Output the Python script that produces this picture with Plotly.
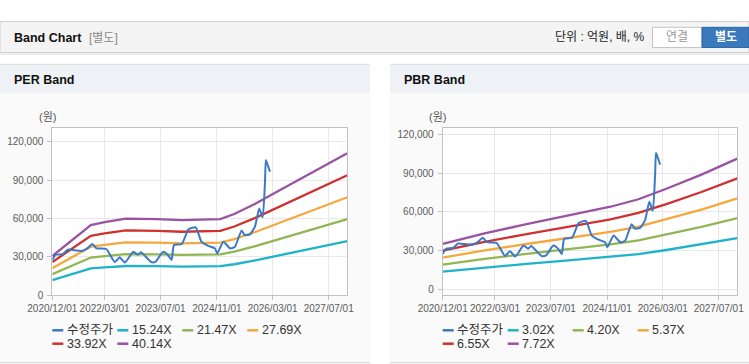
import plotly.graph_objects as go

W, H = 749, 364
FONT = "Liberation Sans, Noto Sans CJK KR, sans-serif"

# ---------------- data ----------------
price_name = "수정주가"
price_dates = ["2020-12-01", "2021-01-01", "2021-03-01", "2021-04-15", "2021-06-15", "2021-08-15",
               "2021-10-01", "2021-11-15", "2021-12-20", "2022-03-15", "2022-05-28", "2022-07-10",
               "2022-08-25", "2022-11-05", "2022-12-15", "2023-01-10", "2023-04-12", "2023-05-20",
               "2023-07-22", "2023-09-01", "2023-10-04", "2023-10-25", "2024-01-01", "2024-02-28",
               "2024-05-01", "2024-06-20", "2024-08-18", "2024-10-15", "2024-11-04", "2024-12-28",
               "2025-02-24", "2025-04-06", "2025-06-03", "2025-07-01", "2025-08-15", "2025-09-28",
               "2025-11-04", "2025-12-04", "2025-12-25", "2026-01-01", "2026-01-22", "2026-02-06"]
price_values = [27500, 31500, 32000, 35500, 35000, 34500,
                36500, 40000, 36500, 36000, 25800, 29500,
                25400, 33900, 31500, 33500, 25700, 26200,
                33900, 31500, 27400, 39100, 39900, 51400,
                53000, 41700, 38400, 36500, 32600, 41700,
                36500, 37500, 50400, 47000, 47500, 53500,
                67800, 60800, 90000, 105700, 100500, 96500]

per_dates = ["2020-12-01", "2021-11-01", "2022-03-01", "2022-09-01", "2023-06-01", "2024-01-01",
             "2024-12-01", "2025-04-01", "2025-10-01", "2026-05-01", "2027-12-10"]
per_names = ["15.24X", "21.47X", "27.69X", "33.92X", "40.14X"]
per_15_24 = [11580, 20800, 21640, 22710, 22560, 22250, 22560, 24080, 27130, 31170, 42110]
per_21_47 = [16320, 29310, 30490, 31990, 31780, 31350, 31780, 33920, 38220, 43910, 59320]
per_27_69 = [21040, 37800, 39320, 41260, 40980, 40430, 40980, 43750, 49290, 56630, 76510]
per_33_92 = [25780, 46300, 48170, 50540, 50200, 49520, 50200, 53590, 60380, 69370, 93720]
per_40_14 = [30510, 54790, 57000, 59810, 59410, 58600, 59410, 63420, 71450, 82090, 110910]

pbr_dates = ["2020-12-01", "2021-12-01", "2022-12-01", "2023-12-01", "2024-12-01",
             "2025-08-01", "2026-04-01", "2027-02-01", "2027-12-10"]
pbr_names = ["3.02X", "4.20X", "5.37X", "6.55X", "7.72X"]
pbr_3_02 = [13770, 16970, 19720, 22350, 25010, 27270, 30440, 34730, 39590]
pbr_4_20 = [19150, 23600, 27430, 31080, 34780, 37930, 42340, 48300, 55060]
pbr_5_37 = [24490, 30180, 35070, 39740, 44460, 48490, 54130, 61760, 70400]
pbr_6_55 = [29870, 36810, 42770, 48470, 54230, 59150, 66020, 75330, 85870]
pbr_7_72 = [35200, 43390, 50410, 57130, 63920, 69710, 77820, 88780, 101210]

tick_dates = ["2020-12-01", "2022-03-01", "2023-07-01", "2024-11-01", "2026-03-01", "2027-07-01"]
tick_labels = ["2020/12/01", "2022/03/01", "2023/07/01", "2024/11/01", "2026/03/01", "2027/07/01"]
y_ticks = [0, 30000, 60000, 90000, 120000]

price_color = "#3b78c6"
band_colors = ["#1fb3c8", "#91b653", "#f5a83e", "#cf3130", "#9a53a0"]

# ---------------- helpers ----------------
def px(x):
    return x / W

def py(y):
    return 1 - y / H

fig = go.Figure()

charts = [
    dict(title="PER Band", x0=52.3, x1=347.3, panel=(0, 370), suffix="",
         dates=per_dates, names=per_names,
         bands=[per_15_24, per_21_47, per_27_69, per_33_92, per_40_14],
         yrange=[0, 130500]),
    dict(title="PBR Band", x0=442.7, x1=737.3, panel=(390, 749), suffix="2",
         dates=pbr_dates, names=pbr_names,
         bands=[pbr_3_02, pbr_4_20, pbr_5_37, pbr_6_55, pbr_7_72],
         yrange=[-4400, 124650]),
]

PLOT_TOP, PLOT_BOT = 128.3, 295.0

shapes = []
annotations = []

# header bar
shapes.append(dict(type="rect", xref="paper", yref="paper", x0=0, x1=1, y0=py(53.5), y1=py(54.8),
                   fillcolor="#e4e4e4", line_width=0, layer="below"))
shapes.append(dict(type="rect", xref="paper", yref="paper", x0=0, x1=1, y0=py(52.5), y1=py(21.5),
                   fillcolor="#f4f4f4", line=dict(color="#cdcdcd", width=1), layer="below"))
annotations.append(dict(text="<b>Band Chart</b>", x=px(11.5), y=py(38), xref="paper", yref="paper",
                        xanchor="left", yanchor="middle", showarrow=False,
                        font=dict(family=FONT, size=12.5, color="#111111")))
annotations.append(dict(text="[별도]", x=px(87), y=py(38), xref="paper", yref="paper",
                        xanchor="left", yanchor="middle", showarrow=False,
                        font=dict(family=FONT, size=12, color="#8a8a8a")))
annotations.append(dict(text="단위 : 억원, 배, %", x=px(647), y=py(37.5), xref="paper", yref="paper",
                        xanchor="right", yanchor="middle", showarrow=False,
                        font=dict(family=FONT, size=12, color="#222222")))
shapes.append(dict(type="rect", xref="paper", yref="paper", x0=px(652.5), x1=px(702), y0=py(47.5), y1=py(27.3),
                   fillcolor="#ffffff", line=dict(color="#c4c4c4", width=1), layer="below"))
shapes.append(dict(type="rect", xref="paper", yref="paper", x0=px(702), x1=px(749), y0=py(47.5), y1=py(27.3),
                   fillcolor="#3a79bc", line=dict(color="#2f68a6", width=1), layer="below"))
annotations.append(dict(text="연결", x=px(677.3), y=py(37.5), xref="paper", yref="paper",
                        xanchor="center", yanchor="middle", showarrow=False,
                        font=dict(family=FONT, size=12, color="#999999")))
annotations.append(dict(text="<b>별도</b>", x=px(725.5), y=py(37.5), xref="paper", yref="paper",
                        xanchor="center", yanchor="middle", showarrow=False,
                        font=dict(family=FONT, size=12, color="#ffffff")))

for i, c in enumerate(charts):
    s = c["suffix"]
    xa = "xaxis" + s
    ya = "yaxis" + s
    pl, pr = c["panel"]
    # panel background
    shapes.append(dict(type="rect", xref="paper", yref="paper", x0=px(pl), x1=px(pr), y0=py(363), y1=py(64),
                       fillcolor="#fafafa", line_width=0, layer="below"))
    shapes.append(dict(type="rect", xref="paper", yref="paper", x0=px(pl), x1=px(pr), y0=py(92.7), y1=py(64.8),
                       fillcolor="#eef2f7", line_width=0, layer="below"))
    shapes.append(dict(type="line", xref="paper", yref="paper", x0=px(pl), x1=px(pr), y0=py(64.3), y1=py(64.3),
                       line=dict(color="#dadada", width=1), layer="below"))
    shapes.append(dict(type="line", xref="paper", yref="paper", x0=px(pl), x1=px(pr), y0=py(362.7), y1=py(362.7),
                       line=dict(color="#d6d6d6", width=1), layer="below"))
    # plot area background
    shapes.append(dict(type="rect", xref="paper", yref="paper", x0=px(c["x0"]), x1=px(c["x1"]),
                       y0=py(PLOT_BOT), y1=py(PLOT_TOP), fillcolor="#ffffff", line_width=0, layer="below"))
    annotations.append(dict(text="<b>" + c["title"] + "</b>", x=px(pl + 11.5), y=py(79.5), xref="paper", yref="paper",
                            xanchor="left", yanchor="middle", showarrow=False,
                            font=dict(family=FONT, size=12.5, color="#111111")))
    annotations.append(dict(text="(원)", x=px(c["x0"] - 5), y=py(117), xref="paper", yref="paper",
                            xanchor="center", yanchor="middle", showarrow=False,
                            font=dict(family=FONT, size=11, color="#555555")))

    # traces
    for name, vals, col in zip(c["names"], c["bands"], band_colors):
        fig.add_trace(go.Scatter(x=c["dates"], y=vals, mode="lines", name=name,
                                 line=dict(color=col, width=2.3), xaxis="x" + s, yaxis="y" + s,
                                 showlegend=False, hoverinfo="skip"))
    fig.add_trace(go.Scatter(x=price_dates, y=price_values, mode="lines", name=price_name,
                             line=dict(color=price_color, width=2, shape="spline", smoothing=0.5),
                             xaxis="x" + s, yaxis="y" + s, showlegend=False))

    axis_common = dict(showline=True, mirror=True, linecolor="#c2c2c2", linewidth=1,
                       showgrid=True, gridcolor="#e8e8e8", gridwidth=1, automargin=False,
                       ticks="outside", ticklen=4, tickcolor="#c2c2c2",
                       tickfont=dict(family=FONT, size=10, color="#5a5a5a"), zeroline=False)
    fig.update_layout(**{
        xa: dict(axis_common, type="date", domain=[px(c["x0"]), px(c["x1"])],
                 range=["2020-12-01", "2027-12-10"], tickmode="array", tickangle=0,
                 tickvals=tick_dates, ticktext=tick_labels, anchor="y" + s, ticklabelstandoff=0),
        ya: dict(axis_common, domain=[py(PLOT_BOT), py(PLOT_TOP)], range=c["yrange"],
                 tickmode="array", tickvals=y_ticks, tickformat=",d", anchor="x" + s,
                 ticklabelstandoff=2),
    })

    # manual legend
    names = [price_name] + c["names"]
    cols = [price_color] + band_colors
    for k, (nm, col) in enumerate(zip(names, cols)):
        row, colidx = divmod(k, 4)
        lx = c["x0"] + 65 * colidx
        ly = 330.3 + 13.4 * row
        shapes.append(dict(type="line", xref="paper", yref="paper", x0=px(lx), x1=px(lx + 11),
                           y0=py(ly), y1=py(ly), line=dict(color=col, width=2.5)))
        annotations.append(dict(text=nm, x=px(lx + 12.5), y=py(ly), xref="paper", yref="paper",
                                xanchor="left", yanchor="middle", showarrow=False,
                                font=dict(family=FONT, size=12.5, color="#333333")))

fig.update_layout(width=W, height=H, margin=dict(l=0, r=0, t=0, b=0, autoexpand=False),
                  paper_bgcolor="#ffffff", plot_bgcolor="rgba(0,0,0,0)",
                  shapes=shapes, annotations=annotations, showlegend=False,
                  font=dict(family=FONT), separators=".,")

fig.write_html("out.html", config={"responsive": False, "displayModeBar": False},
               post_script="document.body.style.margin='0';document.body.style.overflow='hidden';")
